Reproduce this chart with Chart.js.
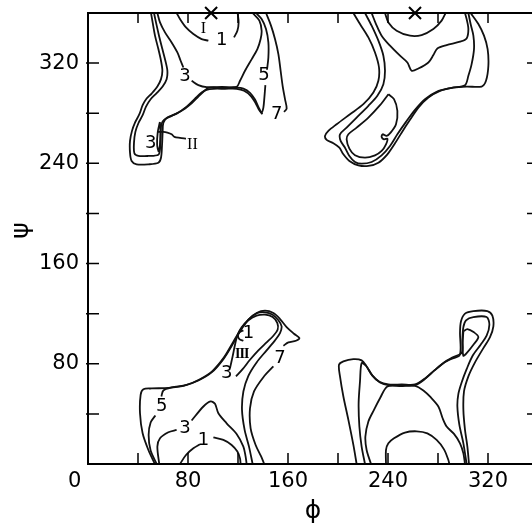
<!DOCTYPE html>
<html>
<head>
<meta charset="utf-8">
<script src="https://cdn.jsdelivr.net/npm/chart.js@4.4.1/dist/chart.umd.min.js"></script>
<style>
  html, body { margin: 0; padding: 0; background: #fff; overflow: hidden; }
  #wrap { width: 560px; height: 528px; }
</style>
</head>
<body>
<div id="wrap"><canvas id="c" width="560" height="528"></canvas></div>
<script>
// Conformational energy map: phi (x) against psi (y), both in degrees.
// Each contour is a list of [phi, psi] points; null breaks the line where a level number sits.

const tickSteps = [0, 40, 80, 120, 160, 200, 240, 280, 320, 360];
const xLabelValues = [0, 80, 160, 240, 320];
const yLabelValues = [80, 160, 240, 320];

// ---- upper-left basin (minimum I) ----
const lvl1TopLeft = [[70.9,360],[73.6,355.2],[78.4,348.5],[84.3,343.2],[90.9,339.2],[96.3,337.9], null,
  [116.8,340.5],[119.5,345.9],[120.5,352.5],[119.7,360]];
const lvl3TopLeft = [[55.5,360],[57.6,352.5],[61.6,344.5],[66.9,336.5],[71.5,328.5],[74.1,321.9],[76.3,316.5], null,
  [82.9,305.9],[88.3,302.4],[94.9,300.8],[107,301],[118.9,301.1],[121.6,305.9],[125.6,313.9],[131,323.2],
  [135.5,331.2],[138.1,339.2],[138.9,345.9],[137.1,353.9],[131.7,360]];
const lvl5TopLeft = [[52.8,360],[54.4,352.5],[56.8,341.9],[59.5,331.2],[61.9,321.9],[63.5,313.9],[62.9,307.2],
  [59.7,301.3],[54.9,296],[50.1,291.2],[46.4,285.3],[43.7,278.4],[40.3,272],[37.9,265.1],[36.8,256.5],
  [37.1,248],[40.3,245.9],[48.3,245.9],[56.3,246.9],[57.6,251.2],[58.1,261.9],[58.7,271.2],[60.8,274.7],
  [66.9,277.9],[74.9,281.9],[82.9,288],[88.3,293.3],[92.3,297.1],[96.3,300.3],[107.5,300.4],[118.9,300.5],
  [124.3,299.7],[129.6,296.3],[133.6,290.9],[136.3,285.1],[138.9,280.5],[140.3,284.5],[141.1,292.5],
  [141.9,302.4], null, [143.2,314.7],[144.3,324.5],[144.3,336.5],[142.4,347.2],[138.9,355.2],[134.4,360]];
const lvl7TopLeft = [[50.4,360],[51.7,352.5],[53.6,341.9],[56.3,331.2],[58.4,321.9],[59.5,313.9],[58.4,307.2],
  [55.5,301.3],[50.9,295.7],[46.9,291.7],[43.7,286.4],[41.1,279.2],[37.6,272.5],[35.2,265.9],[33.6,257.9],
  [33.6,248.5],[34.9,241.9],[38.9,239.2],[48.3,239.2],[56.3,240.5],[58.4,244.5],[59.2,253.9],[59.7,264.5],
  [60.3,272.5],[63.5,276.5],[70.9,279.7],[78.9,285.3],[85.6,291.7],[90.9,296.5],[94.9,298.7],[100.3,299.5],
  [109.6,299.5],[118.9,299.5],[124.8,297.9],[130.1,293.9],[134.1,288],[136.8,282.7],[139.5,279.2], null,
  [156.8,281.1],[158.9,283.7],[157.6,291.2],[155.7,301.9],[154.1,313.9],[152.3,327.2],[149.6,339.2],
  [146.4,349.9],[142.4,360]];
const lvl3LobeII = [[57.5,273],[55.8,265],[55.3,255],[56.5,249.5],[57.6,255],[58,265],[57.5,273]];
const pointerII = [[55.5,265.1],[60.3,265.1],[63.5,264.5],[66.9,263.2],[69.1,261.1],[73.6,260.3],[78.4,259.7]];

// ---- upper-right basin ----
const lvl1TopRight = [[237.6,360],[240.3,352.5],[246.9,345.9],[257.6,341.9],[266.9,342.4],[276.3,347.2],
  [282.9,353.9],[286.1,360]];
const lvl3TopRight = [[226.9,360],[230.4,351.2],[234.9,341.9],[241.6,333.9],[249.6,325.9],[255.5,320.5],
  [258.9,313.9],[264.3,315.7],[272.3,320.5],[276.3,326.4],[279.5,331.7],[286.9,334.4],[297.6,337.1],
  [302.9,339.7],[304.3,347.2],[302.9,355.2],[301.6,360]];
const lvl5TopRight = [[221.6,360],[226.9,349.9],[232.3,337.9],[236.3,325.9],[237.6,313.9],[236.3,303.2],
  [231.5,293.9],[224.3,285.9],[214.9,276.5],[206.9,268.5],[201.6,263.2],[202.1,257.9],[205.6,252.5],
  [209.1,245.9],[213.6,241.1],[218.9,239.7],[226.9,241.1],[234.9,246.4],[241.6,253.9],[247.5,263.2],
  [254.4,273.1],[261.6,282.7],[269.6,291.2],[278.9,297.1],[290.9,300.3],[301.6,302.4],[304.3,309.9],
  [306.9,319.2],[308.8,331.2],[308.3,341.9],[306.1,351.2],[304.3,360]];
const lvl7TopRight = [[212.3,360],[217.6,351.2],[224.3,340.5],[229.6,328.5],[232.8,316.5],[232.3,305.9],
  [228.3,296.5],[220.3,287.2],[209.6,279.2],[198.9,271.2],[192.3,265.9],[189.6,261.9],[190.9,258.7],
  [196.3,256],[201.1,252.5],[204.3,247.2],[209.1,241.9],[216.3,238.4],[224.3,237.9],[232.3,240.5],
  [239.5,247.2],[245.6,256],[250.9,264.5],[257.6,274.7],[264.3,284.5],[272.3,292.5],[281.6,297.9],
  [292.3,300.5],[302.9,301.3],[314.9,301.3],[318.4,305.9],[320.3,317.9],[319.7,331.2],[316.8,341.9],
  [312.3,351.2],[306.1,360]];
const lvl3LobeTopRight = [[240.3,295.2],[244.8,291.2],[247.5,281.9],[246.4,271.2],[242.1,264.5],[238.9,261.9],
  [235.7,263.2],[234.9,261.1],[236.8,259.2],[239.5,259.7],[238.4,255.2],[234.9,249.9],[229.6,246.4],
  [221.6,244.5],[213.6,246.4],[209.1,251.7],[206.9,259.2],[208.3,263.2],[214.9,268.5],[224.3,276.5],
  [233.6,286.4],[240.3,295.2]];

// ---- lower-left basin (minimum III) ----
const lvl1BottomLeft = [[73.6,0],[78.4,7.2],[84.3,12.5],[89.6,15.7], null,
  [100.3,21.3],[108.3,19.2],[114.9,15.2],[119.5,9.9],[121.6,4.5],[122.1,0]];
const lvl3BottomLeft = [[57,0],[55.5,13.9],[57.6,20.5],[64.3,25.3],[70.9,27.2], null,
  [82.9,34.7],[92.3,45.9],[98.1,49.9],[101.6,48],[104.3,40.5],[110.9,32.5],[118.9,24],[124.3,13.9],
  [126.1,5.9],[126.9,0]];
const lvl5BottomLeft = [[55,0],[50.1,10.7],[48.5,23.2],[50.1,33.1],[53.9,38.7], null,
  [58.7,53.9],[60.3,58.7],[66.9,61.1],[78.9,63.2],[89.6,67.7],[99.7,74.4],[108.8,85.1],[116.3,97.6],
  [122.1,107.2],[128.8,115.7],[135.5,120.5],[141.6,121.1],[147.7,119.2],[152.3,114.7],[154.9,109.9],
  [153.6,104.5],[149.6,98.7],[142.9,90.7],[134.9,81.1],[128.3,70.4],[124.3,57.9],[123.2,43.2],
  [125.3,27.2],[128.8,13.9],[131.7,0]];
const lvl7BottomLeft = [[53.5,0],[48.3,11.2],[43.7,24.5],[41.6,40.5],[42.1,55.2],[44.3,59.7],[50.9,60.3],
  [64.3,60.8],[76.3,62.4],[88.3,66.7],[98.9,73.1],[108.3,83.7],[116.3,96.5],[121.6,105.9],[128.3,115.2],
  [134.9,120.5],[141.6,122.4],[148.3,120.5],[153.6,115.7],[158.9,109.3],[164.8,104],[169.1,100.5],
  [166.4,98.4],[160.3,97.1],[156.3,94.4], null, [148.3,77.9],[140.3,69.3],[132.8,57.9],[129.6,44.5],
  [130.1,28.5],[134.1,15.2],[138.5,6],[141,0]];
const lvl3AroundIII = [[113.6,76.5],[115.7,85.9],[117.6,95.2],[119.7,103.2],[122.9,109.1],[128.3,114.7],
  [134.9,118.4],[141.6,119.2],[147.7,117.3],[151.5,112.5],[151.7,107.2],[148.3,102.4],[142.9,97.1],
  [136.3,90.7],[129.6,83.2],[123.7,75.7],[118.4,69.9]];
const lvl1AroundIII = [[124.3,106.7],[121.1,105.1],[120,102.4],[121.1,99.7],[124.3,98.4]];

// ---- lower-right basin ----
const lvl1BottomRight = [[238.4,0],[238.4,11.2],[240.3,16.5],[244.8,20.5],[253.6,25.1],[262.9,26.1],
  [271.5,24.5],[278.9,19.2],[284.8,11.7],[288.3,3.2],[289.1,0]];
const lvl3BottomRight = [[226.4,0],[222.9,11.2],[221.9,21.9],[224.3,33.9],[228.8,43.2],[233.6,52.5],
  [239.5,61.9],[250.5,62.2],[261.6,62.4],[268.3,58.7],[274.1,53.3],[280.3,45.9],[283.7,36.5],[286.9,29.9],
  [292.8,24],[297.6,16.5],[300.3,8.5],[301.6,0]];
const lvl5BottomRight = [[221.6,0],[218.9,13.9],[217.1,29.9],[216.5,48.5],[217.6,65.9],[218.9,80.5],
  [222.4,78.4],[227.2,70.9],[233.1,65.6],[240.3,63.5],[251,63.5],[261.6,63.5],[269.6,68.3],[277.1,74.7],
  [284.8,81.1],[292.3,85.3],[299.2,89.1],[299.5,99.2],[300.3,109.3],[302.4,114.7],[308.3,117.3],
  [318.9,117.3],[321.1,111.2],[318.9,102.4],[314.1,95.2],[307.7,86.4],[302.9,75.7],[298.9,65.1],
  [296.3,56],[295.5,45.9],[297.1,31.2],[300.3,16.5],[302.9,0]];
const lvl7BottomRight = [[214.9,0],[212.3,15.2],[208.3,35.2],[204.3,53.9],[201.6,69.9],[200.8,79.2],
  [204.3,81.9],[212.3,83.7],[218.9,82.7],[222.9,77.9],[227.7,70.4],[233.6,65.1],[240.3,62.9],[251,62.9],
  [261.6,62.9],[268.8,67.2],[276.3,73.9],[284.3,80.5],[291.7,84.3],[297.1,86.4],[298.1,92.5],[297.6,104.5],
  [298.4,113.9],[301.6,120],[308.3,122.1],[319.5,122.1],[323.5,118.4],[324.3,109.9],[321.6,101.3],
  [316.3,92.5],[309.6,81.1],[304.3,69.9],[300.8,57.9],[300.3,43.2],[301.6,27.2],[303.5,13.9],[304.8,0]];
const lvl3Pocket = [[300.3,105.9],[303.5,107.7],[308.8,105.1],[312.3,101.3],[308.3,95.2],[302.9,88.5],
  [300.3,86.4],[299.7,95.2],[300.3,105.9]];

// Level numbers written on the contours
const levelText = ['1', '3', '5', '7', '3', '1', '3', '5', '7', '3', '1'];
const levelPhi  = [106.9, 77.6, 140.8, 150.9, 50.1, 92.3, 77.6, 58.9, 153.6, 110.9, 128.3];
const levelPsi  = [337.9, 309.3, 309.9, 279.2, 256.0, 18.7, 28.5, 45.9, 84.5, 72.0, 104.5];

// Names of the minima
const minimaText = ['I', 'II', 'III'];
const minimaTextPhi = [92.3, 83.5, 123.0];
const minimaTextPsi = [347.2, 254.7, 87.2];

// Global minima marked on the top edge
const crossPhi = [98.5, 261.6];
const crossPsi = [360, 360];

const contourLines = [
  lvl1TopLeft, lvl3TopLeft, lvl5TopLeft, lvl7TopLeft, lvl3LobeII, pointerII,
  lvl1TopRight, lvl3TopRight, lvl5TopRight, lvl7TopRight, lvl3LobeTopRight,
  lvl1BottomLeft, lvl3BottomLeft, lvl5BottomLeft, lvl7BottomLeft, lvl3AroundIII, lvl1AroundIII,
  lvl1BottomRight, lvl3BottomRight, lvl5BottomRight, lvl7BottomRight, lvl3Pocket
];

function splitAtBreaks(line) {
  const parts = [];
  let cur = [];
  for (const p of line) {
    if (p === null) { if (cur.length) parts.push(cur); cur = []; }
    else cur.push({ x: p[0], y: p[1] });
  }
  if (cur.length) parts.push(cur);
  return parts;
}

const datasets = [];
contourLines.forEach(line => {
  splitAtBreaks(line).forEach(seg => datasets.push({
    data: seg,
    showLine: true,
    borderColor: '#111',
    borderWidth: 1.8,
    pointRadius: 0,
    pointHoverRadius: 0,
    tension: 0.3,
    fill: false
  }));
});
datasets.push({
  data: crossPhi.map((v, i) => ({ x: v, y: crossPsi[i] })),
  showLine: false,
  pointStyle: 'crossRot',
  pointRadius: 8.5,
  borderColor: '#000',
  borderWidth: 2,
  clip: false
});

const FONT = 'DejaVu Sans';

const frameAndText = {
  id: 'frameAndText',
  afterDatasetsDraw(chart) {
    const { ctx, chartArea: a, scales: { x, y } } = chart;
    ctx.save();
    ctx.strokeStyle = '#000';
    ctx.lineWidth = 2;
    ctx.strokeRect(a.left, a.top, a.right - a.left, a.bottom - a.top);

    // inward tick marks on all four sides
    ctx.lineWidth = 1.5;
    ctx.beginPath();
    tickSteps.forEach(v => {
      if (v === 0 || v === 360) return;
      const px = x.getPixelForValue(v), py = y.getPixelForValue(v);
      ctx.moveTo(px, a.bottom); ctx.lineTo(px, a.bottom - 11);
      ctx.moveTo(px, a.top); ctx.lineTo(px, a.top + 10);
      ctx.moveTo(a.left - 2, py); ctx.lineTo(a.left + 11, py);
      ctx.moveTo(a.right, py); ctx.lineTo(a.right - 11, py);
    });
    ctx.stroke();

    ctx.fillStyle = '#000';
    ctx.textAlign = 'center';
    ctx.textBaseline = 'middle';
    ctx.font = '18px "' + FONT + '"';
    levelText.forEach((t, i) => {
      ctx.fillText(t, x.getPixelForValue(levelPhi[i]), y.getPixelForValue(levelPsi[i]));
    });

    minimaText.forEach((t, i) => {
      const bold = t === 'III';
      ctx.font = (bold ? 'bold 14px' : '16px') + ' "Liberation Serif"';
      if ('letterSpacing' in ctx) ctx.letterSpacing = bold ? '-1px' : '0px';
      ctx.fillText(t, x.getPixelForValue(minimaTextPhi[i]), y.getPixelForValue(minimaTextPsi[i]));
    });
    ctx.restore();
  }
};

new Chart(document.getElementById('c'), {
  type: 'scatter',
  data: { datasets },
  plugins: [frameAndText],
  options: {
    responsive: false,
    animation: false,
    events: [],
    layout: { padding: { left: 0, top: 13, right: 22, bottom: 0 } },
    plugins: { legend: { display: false }, tooltip: { enabled: false } },
    scales: {
      x: {
        type: 'linear',
        min: 0, max: 360,
        afterFit: s => { s.height = 64; s.paddingLeft = 0; s.paddingRight = 0; },
        grid: { display: false, drawTicks: false },
        border: { display: false },
        ticks: {
          stepSize: 40,
          autoSkip: false,
          maxRotation: 0,
          padding: 5,
          color: '#000',
          font: { family: FONT, size: 21 },
          callback: v => v === 0 ? '0    ' : (xLabelValues.includes(v) ? String(v) : null)
        },
        title: {
          display: true,
          text: '\u03D5',
          color: '#000',
          font: { family: FONT, size: 25 },
          padding: { top: 0, bottom: 2 }
        }
      },
      y: {
        type: 'linear',
        min: 0, max: 360,
        afterFit: s => { s.width = 88; s.paddingTop = 0; s.paddingBottom = 0; },
        grid: { display: false, drawTicks: false },
        border: { display: false },
        ticks: {
          stepSize: 40,
          autoSkip: false,
          padding: 9,
          color: '#000',
          font: { family: FONT, size: 21 },
          callback: v => yLabelValues.includes(v) ? String(v) : null
        },
        title: {
          display: true,
          text: '  \u03C8',
          color: '#000',
          font: { family: FONT, size: 25 },
          padding: { top: 6, bottom: 0 }
        }
      }
    }
  }
});
</script>
</body>
</html>
